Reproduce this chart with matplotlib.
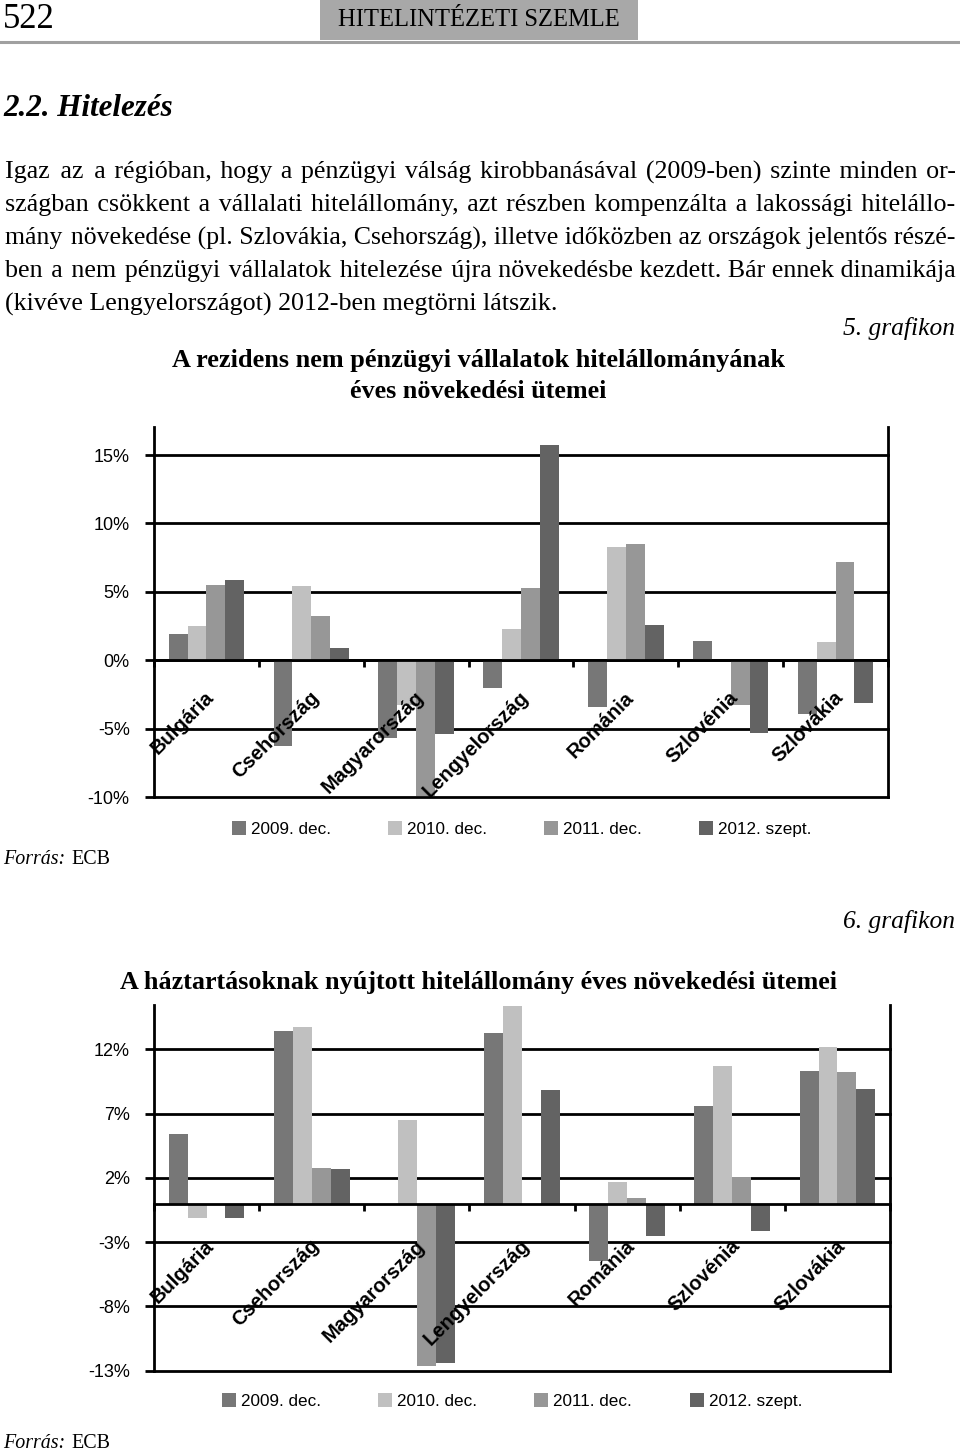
import numpy as np
import matplotlib
matplotlib.use('Agg')
import matplotlib.pyplot as plt
from matplotlib.patches import Rectangle
from matplotlib.lines import Line2D

W, H = 960, 1452

# ---------------- data ----------------
countries = ['Bulgária', 'Csehország', 'Magyarország', 'Lengyelország',
             'Románia', 'Szlovénia', 'Szlovákia']
series_labels = ['2009. dec.', '2010. dec.', '2011. dec.', '2012. szept.']
colors = ['#777777', '#c0c0c0', '#979797', '#636363']

# 5. grafikon: non-financial corporations loan growth (%)
corp_2009 = [1.9, -6.3, -5.7, -2.0, -3.4, 1.4, -3.9]
corp_2010 = [2.5, 5.4, -3.3, 2.3, 8.3, 0.0, 1.3]
corp_2011 = [5.5, 3.2, -9.9, 5.3, 8.5, -3.3, 7.2]
corp_2012 = [5.9, 0.9, -5.4, 15.7, 2.6, -5.3, -3.1]

# 6. grafikon: household loan growth (%)
hh_2009 = [5.4, 13.4, 0.0, 13.3, -4.5, 7.6, 10.3]
hh_2010 = [-1.1, 13.7, 6.5, 15.4, 1.7, 10.7, 12.2]
hh_2011 = [0.0, 2.8, -12.6, 0.0, 0.4, 2.1, 10.2]
hh_2012 = [-1.1, 2.7, -12.4, 8.8, -2.5, -2.1, 8.9]

corp_ticks = [-10, -5, 0, 5, 10, 15]
corp_ticklabels = ['-10%', '-5%', '0%', '5%', '10%', '15%']
hh_ticks = [-13, -8, -3, 2, 7, 12]
hh_ticklabels = ['-13%', '-8%', '-3%', '2%', '7%', '12%']

body_lines = [
    "Igaz az a régióban, hogy a pénzügyi válság kirobbanásával (2009-ben) szinte minden or-",
    "szágban csökkent a vállalati hitelállomány, azt részben kompenzálta a lakossági hitelállo-",
    "mány növekedése (pl. Szlovákia, Csehország), illetve időközben az országok jelentős részé-",
    "ben a nem pénzügyi vállalatok hitelezése újra növekedésbe kezdett. Bár ennek dinamikája",
    "(kivéve Lengyelországot) 2012-ben megtörni látszik.",
]

SERIF = 'Liberation Serif'
SERIF_FB = ['Liberation Serif', 'DejaVu Serif', 'DejaVu Sans']
SANS = 'Liberation Sans'
HAIR = '\u200a'

fig = plt.figure(figsize=(W / 100, H / 100), dpi=100)
fig.patch.set_facecolor('white')
renderer = fig.canvas.get_renderer()


def fy(y):
    return 1 - y / H


def px_rect(x0, y0, x1, y1):
    return [x0 / W, 1 - y1 / H, (x1 - x0) / W, (y1 - y0) / H]


def fit_text(x, y, s, width, ha='left', va='center', **kw):
    t = fig.text(x / W, fy(y), s, ha=ha, va=va, fontsize=20, **kw)
    w = t.get_window_extent(renderer).width
    t.set_fontsize(20 * width / w)
    return t


def text_width(s, size, **kw):
    t = fig.text(0, 0, s, fontsize=size, **kw)
    w = t.get_window_extent(renderer).width
    t.remove()
    return w


def justify(y, line, x0, x1, size, last=False):
    kw = dict(family=SERIF_FB)
    natural = text_width(line, size, **kw)
    while natural > (x1 - x0):
        size *= 0.99
        natural = text_width(line, size, **kw)
    s = line
    if not last:
        words = line.split(' ')
        n = len(words) - 1
        hw = (text_width('a' + HAIR * 20 + 'a', size, **kw)
              - text_width('aa', size, **kw)) / 20
        k = int(round((x1 - x0 - natural) / hw)) if hw > 0 else 0
        base, rem = divmod(k, n)
        parts = []
        for i, w in enumerate(words[:-1]):
            parts.append(w + ' ' + HAIR * (base + (1 if i < rem else 0)))
        s = ''.join(parts) + words[-1]
    fig.text(x0 / W, fy(y), s, ha='left', va='baseline', fontsize=size, **kw)


# ---------------- page header ----------------
fig.patches.append(Rectangle((320 / W, fy(40)), 318 / W, 40 / H,
                             transform=fig.transFigure, facecolor='#a8a8a8',
                             edgecolor='none'))
fig.add_artist(Line2D([0, 1], [fy(42), fy(42)], color='#a0a0a0', lw=2.2,
                      transform=fig.transFigure))
fit_text(3, 19, '522', 52, family=SERIF)
fit_text(479, 20, 'HITELINTÉZETI SZEMLE', 282, ha='center', family=SERIF)
fit_text(3, 108, '2.2. Hitelezés', 170, family=SERIF, style='italic',
         weight='bold')

# body text
body_size = 20
w5 = text_width(body_lines[4], body_size, family=SERIF_FB)
body_size = body_size * 553 / w5
for i, ln in enumerate(body_lines):
    yb = 171 + 33 * i + 7.5
    justify(yb, ln, 5, 955, body_size, last=(i == 4))

fit_text(955, 328, '5. grafikon', 112, ha='right', family=SERIF, style='italic')
fit_text(478, 360, 'A rezidens nem pénzügyi vállalatok hitelállományának', 613,
         ha='center', family=SERIF, weight='bold')
t2 = fig.text(478 / W, fy(391), 'éves növekedési ütemei', ha='center',
              va='center', family=SERIF, weight='bold')

fit_text(955, 921, '6. grafikon', 112, ha='right', family=SERIF, style='italic')
tt = fit_text(479, 983,
              'A háztartásoknak nyújtott hitelállomány éves növekedési ütemei',
              718, ha='center', family=SERIF, weight='bold')
title_size = tt.get_fontsize()
t2.set_fontsize(title_size)


def forras(y):
    t = fit_text(3, y, 'Forrás:', 62, family=SERIF, style='italic')
    sz = t.get_fontsize()
    w = t.get_window_extent(renderer).width
    fig.text((3 + w + 6) / W, fy(y), 'ECB', ha='left', va='center',
             fontsize=sz, family=SERIF)


# ---------------- charts ----------------
def bar_chart(rect, series, ylim, ticks, ticklabels, label_pad):
    ax = fig.add_axes(px_rect(*rect))
    x = np.arange(len(countries))
    width = 0.18
    for t in ticks:
        ax.axhline(t, color='black', lw=2, zorder=1, clip_on=False)
    for i, (vals, c) in enumerate(zip(series, colors)):
        ax.bar(x + (i - 1.5) * width, vals, width, color=c,
               edgecolor='none', zorder=2, label=series_labels[i])
    ax.set_axisbelow(False)
    ax.set_xlim(-0.5, len(countries) - 0.5)
    ax.set_ylim(*ylim)
    ax.set_yticks(ticks)
    ax.set_yticklabels(ticklabels, fontsize=13, family=SANS)
    ax.spines['top'].set_visible(False)
    ax.spines['bottom'].set_position(('data', 0))
    for s in ['left', 'right', 'bottom']:
        ax.spines[s].set_linewidth(2)
        ax.spines[s].set_zorder(3)
    ax.set_xticks(np.arange(-0.5, len(countries)))
    ax.set_xticklabels([])
    ax.set_xticks(x - 0.02, minor=True)
    ax.set_xticklabels(countries, minor=True, rotation=45, ha='right',
                       rotation_mode='anchor', fontsize=14.5,
                       fontweight='bold', family=SANS)
    for lbl in ax.get_xticklabels(minor=True):
        lbl.set_zorder(5)
    ax.tick_params(axis='x', which='major', direction='out', length=5,
                   width=2)
    ax.tick_params(axis='x', which='minor', length=0, pad=label_pad)
    ax.tick_params(axis='y', direction='out', length=6.5, width=2, pad=11,
                   colors='black')
    return ax


def legend(y, x_squares):
    for lab, c, xs in zip(series_labels, colors, x_squares):
        fig.patches.append(Rectangle((xs / W, fy(y + 7)), 14 / W, 14 / H,
                                     transform=fig.transFigure, facecolor=c,
                                     edgecolor='none'))
        fig.text((xs + 19) / W, fy(y + 6), lab, ha='left', va='baseline',
                 fontsize=12.3, family=SANS)


corp_series = [corp_2009, corp_2010, corp_2011, corp_2012]
hh_series = [hh_2009, hh_2010, hh_2011, hh_2012]

bar_chart((154, 427, 888, 797), corp_series, (-10, 17.05), corp_ticks,
          corp_ticklabels, 20)
legend(828, [232, 388, 544, 699])
forras(860)

bar_chart((154, 1005, 890, 1370.7), hh_series, (-13, 15.45), hh_ticks,
          hh_ticklabels, 23.5)
legend(1400, [222, 378, 534, 690])
forras(1443)

fig.savefig('out.png', dpi=100)
